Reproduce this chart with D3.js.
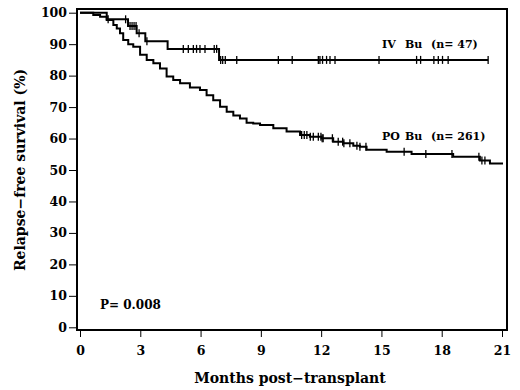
<!DOCTYPE html>
<html>
<head>
<meta charset="utf-8">
<script src="https://cdn.jsdelivr.net/npm/d3@7"></script>
<style>
  html, body { margin: 0; padding: 0; background: #fff; }
  svg { display: block; }
  text { font-family: "DejaVu Serif", "Liberation Serif", serif; font-weight: bold; fill: #000; }
</style>
</head>
<body>
<svg id="chart" width="520" height="390"></svg>
<script>
// ---------- data ----------
const xTicks = [0, 3, 6, 9, 12, 15, 18, 21];
const yTicks = [0, 10, 20, 30, 40, 50, 60, 70, 80, 90, 100];

// IV Bu: event step points (months, % relapse-free)
const ivTimes = [0, 1.33, 2.39, 2.82, 3.25, 4.36, 6.92, 20.31];
const ivSurv  = [100, 97.9, 95.8, 93.5, 90.9, 88.5, 85.0, 85.0];
const ivCensor = [1.4, 2.27, 2.49, 2.59, 2.69, 2.79, 2.94, 3.33, 5.14, 5.39, 5.64, 5.80, 5.97, 6.22,
  6.68, 6.80, 7.0, 7.1, 7.23, 7.8, 9.87, 10.56, 11.86, 11.94, 12.07, 12.27, 12.44, 12.69,
  14.88, 16.75, 16.95, 17.61, 17.83, 18.04, 18.32, 20.31];

// PO Bu
const poTimes = [0, 0.66, 1.0, 1.33, 1.66, 1.83, 1.99, 2.15, 2.40, 2.65, 2.99, 3.32, 3.65, 3.98,
  4.31, 4.64, 4.98, 5.47, 5.97, 6.30, 6.63, 6.97, 7.30, 7.63, 7.96, 8.29, 8.62, 8.96, 9.62,
  10.28, 10.95, 11.44, 12.02, 12.60, 13.10, 13.60, 13.93, 14.26, 15.26, 16.50, 18.57, 19.90,
  20.40, 21.05];
const poSurv = [100, 99.3, 98.7, 97.7, 96.1, 95.0, 93.5, 91.3, 90.0, 89.2, 86.6, 85.0, 83.9, 82.3,
  79.7, 78.6, 77.6, 76.2, 75.4, 73.8, 72.2, 70.1, 68.5, 67.3, 66.4, 65.0, 64.8, 64.3, 63.3,
  62.2, 61.1, 60.6, 60.1, 59.0, 58.5, 57.7, 57.4, 56.4, 55.8, 55.1, 54.2, 53.0,
  52.1, 52.1];
const poCensor = [11.03, 11.16, 11.29, 11.46, 11.61, 11.86, 11.99, 12.05, 12.10, 12.56, 12.85,
  13.07, 13.13, 13.43, 13.78, 13.93, 14.23, 16.13, 17.21, 18.51, 19.85, 20.0, 20.15];

const ivLabel = ["IV", "Bu", "(n= 47)"];
const poLabel = ["PO", "Bu", "(n= 261)"];
const pLabel = "P= 0.008";
const xTitle = "Months post\u2212transplant";
const yTitle = "Relapse\u2212free survival (%)";

// ---------- layout ----------
const svg = d3.select("#chart");
const frame = {left: 77, top: 9, right: 507, bottom: 330};
const x = d3.scaleLinear().domain([0, 21]).range([80, 502]);
const y = d3.scaleLinear().domain([0, 100]).range([327.3, 12.7]);

// frame
svg.append("rect")
  .attr("x", frame.left).attr("y", frame.top)
  .attr("width", frame.right - frame.left).attr("height", frame.bottom - frame.top)
  .attr("fill", "none").attr("stroke", "#000").attr("stroke-width", 2);

// axes
const yAxis = svg.append("g").attr("transform", `translate(${frame.left - 1},0)`)
  .call(d3.axisLeft(y).tickValues(yTicks).tickSize(7).tickPadding(2).tickFormat(d3.format("d")));
const xAxis = svg.append("g").attr("transform", `translate(0,${frame.bottom + 1})`)
  .call(d3.axisBottom(x).tickValues(xTicks).tickSize(6).tickPadding(9).tickFormat(d3.format("d")));
[yAxis, xAxis].forEach(g => {
  g.select(".domain").remove();
  g.selectAll(".tick line").attr("stroke", "#000").attr("stroke-width", 1);
  g.selectAll(".tick text").attr("font-size", 12.5).attr("font-family", null).attr("fill", "#000");
});

// curves
const line = d3.line().curve(d3.curveStepAfter).x(d => x(d[0])).y(d => y(d[1]));
function drawSeries(times, surv, censor) {
  const pts = times.map((t, i) => [t, surv[i]]);
  svg.append("path").attr("d", line(pts))
    .attr("fill", "none").attr("stroke", "#000").attr("stroke-width", 2);
  const bis = d3.bisector(d => d).right;
  censor.forEach(c => {
    const i = Math.max(0, bis(times, c) - 1);
    const yy = y(surv[i]);
    svg.append("line")
      .attr("x1", x(c)).attr("x2", x(c))
      .attr("y1", yy - 4).attr("y2", yy + 4)
      .attr("stroke", "#000").attr("stroke-width", 1.3);
  });
}
drawSeries(ivTimes, ivSurv, ivCensor);
drawSeries(poTimes, poSurv, poCensor);

// series labels (word start positions)
const wordX = [382, 405, 431];
function seriesLabel(words, baseline) {
  const t = svg.append("text").attr("y", baseline).attr("font-size", 11);
  words.forEach((w, i) => t.append("tspan").attr("x", wordX[i]).text(w));
}
seriesLabel(ivLabel, 48);
seriesLabel(poLabel, 140);

svg.append("text").attr("x", 100).attr("y", 309).attr("font-size", 12)
  .style("white-space", "pre").text(pLabel);

svg.append("text").attr("x", 290).attr("y", 383).attr("font-size", 14)
  .attr("text-anchor", "middle").text(xTitle);
svg.append("text").attr("transform", "translate(25,170) rotate(-90)").attr("font-size", 14)
  .attr("text-anchor", "middle").text(yTitle);
</script>
</body>
</html>
